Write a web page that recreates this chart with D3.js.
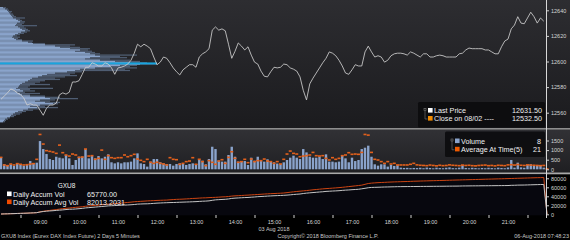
<!DOCTYPE html>
<html lang="en">
<head>
<meta charset="UTF-8">
<title>GXU8 Index</title>
<script src="https://cdnjs.cloudflare.com/ajax/libs/d3/7.8.5/d3.min.js"></script>
<style>
    body {
        margin: 0;
        background-color: #000;
    }
    svg {
        display: block;
        font-family: "Liberation Sans", Arial, sans-serif;
    }
</style>
</head>
<body>
<svg id="chart" width="570" height="240"></svg>
<script>
// 5 minute bars, 03 Aug 2018 08:00 .. 21:55
let hourLabels = ['09:00', '10:00', '11:00', '12:00', '13:00', '14:00', '15:00', '16:00', '17:00', '18:00', '19:00', '20:00', '21:00'];
let priceTicks = [12560, 12580, 12600, 12620, 12640];
let volTicks = [0, 500, 1000, 1500];
let accTicks = [0, 20000, 40000, 60000, 80000];

let lastPrice = [
    12570.5, 12573, 12575.5, 12578.5, 12577.5, 12575.5, 12574, 12571.5, 12566, 12567,
    12566, 12566, 12562, 12558, 12563.5, 12566, 12566, 12567.5, 12574, 12575.5,
    12574.5, 12576, 12584, 12584, 12585, 12590, 12595.5, 12595.5, 12599, 12598,
    12596.5, 12596.5, 12599, 12598, 12595, 12590, 12595, 12595.5, 12596.5, 12598,
    12601, 12606.5, 12613.5, 12611.5, 12613.5, 12612, 12610, 12603.5, 12597.5, 12599.5,
    12603.5, 12602.5, 12599, 12595, 12592, 12589.5, 12593.5, 12595.5, 12597.5, 12597.5,
    12595.5, 12603.5, 12606, 12607.5, 12610, 12624.5, 12627, 12624.5, 12625.5, 12624,
    12613.5, 12602.5, 12608, 12614.5, 12612, 12609, 12611.5, 12605, 12599.5, 12598,
    12592.5, 12588.5, 12588, 12592, 12595.5, 12595, 12595.5, 12598, 12597.5, 12595,
    12594, 12592.5, 12588, 12577.5, 12570, 12582.5, 12587, 12591, 12595, 12599,
    12602.5, 12607.5, 12606.5, 12604.5, 12601, 12596.5, 12591, 12590, 12593.5, 12597.5,
    12596.5, 12596.5, 12607.5, 12612, 12607.5, 12603.5, 12604.5, 12603.5, 12599.5, 12601,
    12604.5, 12606, 12606.5, 12606.5, 12606, 12605, 12607.5, 12606.5, 12605, 12603.5,
    12606, 12606, 12603.5, 12603.5, 12604.5, 12605, 12604.5, 12603.5, 12603.5, 12603.5,
    12603.5, 12606, 12606.5, 12609, 12610.5, 12610, 12610, 12610, 12610, 12609,
    12609, 12607.5, 12606, 12606, 12611.5, 12616, 12617.5, 12625.5, 12628.5, 12635,
    12630, 12629.5, 12634, 12638.5, 12635, 12630, 12634, 12631.5
];

let volume = [
    620, 260, 225, 260, 190, 310, 225, 190, 275, 430, 310, 345, 1470, 1055, 795, 535, 485, 655, 605, 570,
    745, 570, 225, 485, 655, 655, 1055, 570, 690, 570, 690, 570, 655, 780, 365, 310, 365, 310, 365, 365,
    400, 570, 830, 310, 275, 140, 400, 535, 535, 365, 310, 275, 275, 190, 275, 310, 275, 225, 275, 310,
    275, 485, 450, 260, 535, 1175, 1055, 450, 400, 400, 745, 1175, 655, 400, 400, 430, 225, 605, 450, 655,
    430, 400, 520, 400, 365, 300, 275, 365, 485, 605, 710, 605, 535, 1055, 880, 655, 605, 605, 655, 535,
    780, 400, 400, 365, 400, 710, 570, 365, 605, 430, 485, 1055, 1125, 1230, 655, 260, 190, 260, 260, 140,
    225, 175, 225, 85, 70, 75, 60, 70, 65, 80, 55, 90, 70, 50, 85, 65, 55, 80, 100, 60,
    55, 85, 225, 70, 55, 80, 65, 50, 70, 55, 80, 65, 50, 85, 70, 55, 95, 485, 85, 345,
    100, 80, 230, 260, 200, 225, 225, 85
];

let avgAtTime = [
    620, 225, 190, 275, 225, 295, 260, 225, 240, 275, 295, 520, 1815, 1315, 970, 935, 900, 830, 1260, 865,
    745, 690, 795, 745, 620, 640, 1055, 690, 710, 520, 570, 1000, 520, 710, 605, 570, 605, 605, 745, 655,
    710, 780, 535, 467, 400, 520, 365, 310, 365, 310, 275, 225, 605, 520, 500, 260, 310, 400, 430, 605,
    260, 520, 400, 190, 450, 365, 260, 430, 500, 310, 620, 915, 570, 365, 400, 520, 345, 535, 400, 450,
    450, 535, 430, 400, 310, 400, 275, 520, 795, 950, 830, 795, 655, 690, 710, 745, 880, 710, 690, 710,
    570, 485, 605, 520, 570, 710, 745, 865, 780, 795, 780, 880, 1815, 1780, 880, 520, 485, 400, 310, 400,
    275, 310, 225, 225, 225, 225, 260, 310, 230, 210, 200, 190, 220, 200, 180, 210, 190, 200, 230, 210,
    200, 190, 220, 200, 210, 190, 180, 200, 210, 220, 190, 200, 180, 210, 200, 190, 230, 240, 220, 250,
    210, 200, 230, 220, 210, 200, 190, 200
];

// first bar of 06 Aug
let newDayVolume = 8;
let newDayAvg = 21;

// volume at price, one row per index point from the top level down
let profileTop = 12642;
let profileLight = [
    30, 50, 70, 80, 90, 100, 110, 120, 130, 160, 180, 200, 170, 160, 150, 180, 200, 220, 250, 210,
    180, 150, 130, 120, 140, 160, 220, 280, 330, 450, 550, 600, 700, 800, 750, 850, 900, 950, 1000, 900,
    850, 1000, 1150, 1300, 1400, 1200, 1100, 950, 800, 750, 670, 550, 470, 420, 380, 320, 300, 280, 250, 220,
    200, 190, 180, 160, 200, 230, 170, 200, 220, 300, 450, 500, 400, 350, 450, 530, 400, 300, 370, 280,
    230, 180, 150, 130, 110, 100, 70, 50, 40, 30
];
let profileDark = [
    60, 80, 90, 120, 110, 130, 140, 160, 250, 200, 220, 250, 240, 220, 370, 240, 260, 280, 300, 270,
    240, 200, 170, 200, 180, 220, 330, 320, 450, 750, 700, 800, 900, 880, 920, 950, 1000, 1370, 1200, 1270,
    1100, 1300, 1400, 1470, 1570, 1370, 1300, 1370, 1250, 1300, 820, 750, 700, 770, 650, 550, 600, 450, 400, 350,
    500, 300, 280, 530, 300, 350, 250, 400, 300, 450, 600, 780, 550, 500, 600, 580, 500, 450, 580, 400,
    330, 260, 220, 200, 160, 140, 100, 80, 60, 50
];
let pocPrice = 12598.5;
let pocVolume = 1570;

let legendPrice = [['Last Price', '12631.50', '#ffffff'], ['Close on 08/02 ---- ', '12532.50', '#f08a00']];
let legendVol = [['Volume', '8', '#8aa3cb'], ['Average At Time(5)', '21', '#f05a00']];
let legendAcc = [['Daily Accum Vol', '65770.00', '#ffffff'], ['Daily Accum Avg Vol', '82013.2031', '#f04a00']];

let width = 570;
let height = 240;
let axisX = 546;
let svg = d3.select('#chart');

// Scales
let xIdx = d3.scaleLinear().domain([0, 168]).range([1, 547]);
let yPrice = d3.scaleLinear().domain([12560, 12640]).range([112.7, 10.3]);
let yVol = d3.scaleLinear().domain([0, 1500]).range([169.3, 140.5]);
let yAcc = d3.scaleLinear().domain([0, 80000]).range([214.3, 178.3]);
let xProf = d3.scaleLinear().domain([0, 1600]).range([0, 160]);

// Backgrounds
let defs = svg.append('defs');
let addGrad = (id, c0, c1) => {
    let g = defs.append('linearGradient').attr('id', id)
        .attr('x1', 0).attr('y1', 0).attr('x2', 0).attr('y2', 1);
    g.append('stop').attr('offset', '0%').attr('stop-color', c0);
    g.append('stop').attr('offset', '100%').attr('stop-color', c1);
};
addGrad('gPrice', '#2d2d31', '#1b1b1e');
addGrad('gVol', '#313135', '#1f1f22');

svg.append('rect').attr('width', width).attr('height', height).attr('fill', '#000');
svg.append('rect').attr('x', 0).attr('y', 0).attr('width', width).attr('height', 128).attr('fill', 'url(#gPrice)');
svg.append('rect').attr('x', 0).attr('y', 128).attr('width', width).attr('height', 1.8).attr('fill', '#8e8e8e');
svg.append('rect').attr('x', 0).attr('y', 129.8).attr('width', width).attr('height', 43).attr('fill', 'url(#gVol)');
svg.append('rect').attr('x', 0).attr('y', 172.5).attr('width', width).attr('height', 1.8).attr('fill', '#a9a9a9');
svg.append('rect').attr('x', 0).attr('y', 174.3).attr('width', axisX).attr('height', 41).attr('fill', '#07070e');

// Volume profile
let prof = svg.append('g');
profileDark.forEach((v, k) => {
    let p = profileTop - k;
    prof.append('rect')
        .attr('x', 0).attr('y', yPrice(p + 0.5))
        .attr('width', xProf(v)).attr('height', yPrice(p - 0.5) - yPrice(p + 0.5))
        .attr('fill', '#4f5d72');
});
profileLight.forEach((v, k) => {
    let p = profileTop - k;
    prof.append('rect')
        .attr('x', 0).attr('y', yPrice(p + 0.5))
        .attr('width', xProf(v)).attr('height', yPrice(p - 0.5) - yPrice(p + 0.5))
        .attr('fill', '#8aa4cb');
});
prof.append('rect')
    .attr('x', 0).attr('y', yPrice(pocPrice) - 1)
    .attr('width', xProf(pocVolume)).attr('height', 2)
    .attr('fill', '#18a4de');

// Price line
svg.append('path')
    .datum(lastPrice)
    .attr('fill', 'none')
    .attr('stroke', '#cfcfcf')
    .attr('stroke-width', 0.85)
    .attr('d', d3.line().x((d, i) => xIdx(i)).y((d) => yPrice(d)));

// Volume bars and average markers
svg.selectAll('.bar')
    .data(volume.concat([newDayVolume]))
    .enter()
    .append('rect')
    .attr('class', 'bar')
    .attr('x', (d, i) => xIdx(i) - 1.2)
    .attr('y', (d) => yVol(d))
    .attr('width', 2.4)
    .attr('height', (d) => yVol(0) - yVol(d))
    .attr('fill', '#8aa3cb');

svg.selectAll('.avg')
    .data(avgAtTime.concat([newDayAvg]))
    .enter()
    .append('rect')
    .attr('class', 'avg')
    .attr('x', (d, i) => xIdx(i) - 1.5)
    .attr('y', (d) => yVol(d) - 0.8)
    .attr('width', 3)
    .attr('height', 1.6)
    .attr('fill', '#e2601c');

// Accumulated volume
let cumVol = [];
let cumAvg = [];
volume.reduce((s, v) => { cumVol.push(s + v); return s + v; }, 0);
avgAtTime.reduce((s, v) => { cumAvg.push(s + v); return s + v; }, 0);
cumVol.push(newDayVolume);
cumAvg.push(newDayAvg);

let accLine = d3.line().x((d, i) => xIdx(i)).y((d) => yAcc(d));
svg.append('path').datum(cumAvg)
    .attr('fill', 'none').attr('stroke', '#cc4412').attr('stroke-width', 1)
    .attr('d', accLine);
svg.append('path').datum(cumVol)
    .attr('fill', 'none').attr('stroke', '#c4c4c4').attr('stroke-width', 1)
    .attr('d', accLine);

// Right axes
let styleAxis = (g) => {
    g.select('.domain').remove();
    g.selectAll('line').attr('stroke', '#d0d0d0');
    g.selectAll('text').attr('fill', '#d6d6d6').attr('font-size', '5.5px')
        .attr('font-family', '"Liberation Sans", Arial, sans-serif');
};
svg.append('g').attr('transform', 'translate(' + axisX + ',0)')
    .call(d3.axisRight(yPrice).tickValues(priceTicks).tickSize(3).tickPadding(2).tickFormat(d3.format('d')))
    .call(styleAxis);
svg.append('g').attr('transform', 'translate(' + axisX + ',0)')
    .call(d3.axisRight(yVol).tickValues(volTicks).tickSize(3).tickPadding(2).tickFormat(d3.format('d')))
    .call(styleAxis);
svg.append('g').attr('transform', 'translate(' + axisX + ',0)')
    .call(d3.axisRight(yAcc).tickValues(accTicks).tickSize(3).tickPadding(2).tickFormat(d3.format('d')))
    .call(styleAxis);
svg.append('line').attr('x1', axisX + 0.5).attr('x2', axisX + 0.5).attr('y1', 0).attr('y2', 218)
    .attr('stroke', '#d8d8d8').attr('stroke-width', 1);

// Time axis
let hourIdx = hourLabels.map((h, i) => (i + 1) * 12);
let halfIdx = d3.range(0, 14).map((h) => h * 12 + 6);
svg.append('g').attr('transform', 'translate(0,215)')
    .call(d3.axisBottom(xIdx).tickValues(halfIdx).tickSize(3).tickFormat(''))
    .call(styleAxis);
svg.append('g').attr('transform', 'translate(0,218.5)')
    .call(d3.axisBottom(xIdx).tickValues(hourIdx).tickSize(0).tickPadding(2)
        .tickFormat((d, i) => hourLabels[i]))
    .call(styleAxis);

let smallText = (x, y, txt, anchor) => svg.append('text')
    .attr('x', x).attr('y', y).attr('text-anchor', anchor || 'start')
    .attr('fill', '#c8c8c8').attr('font-size', '5.5px').text(txt);
smallText(xIdx(7 * 12), 230.5, '03 Aug 2018', 'middle');
smallText(1, 237.5, 'GXU8 Index (Eurex DAX Index Future) 2 Days 5 Minutes');
smallText(328, 237.5, 'Copyright\u00a9 2018 Bloomberg Finance L.P.', 'middle');
smallText(569, 237.5, '06-Aug-2018 07:48:23', 'end');

// Legends
let drawLegend = (items, bx, by, bw, bh, x0, xv, y0, dy, bracket) => {
    let g = svg.append('g');
    if (bw > 0) {
        g.append('rect').attr('x', bx).attr('y', by).attr('width', bw).attr('height', bh)
            .attr('rx', 1.5).attr('fill', '#0c0c0e').attr('fill-opacity', 0.92);
    }
    if (bracket) {
        g.append('rect').attr('x', x0 - 10).attr('y', y0 - 4.5).attr('width', 2).attr('height', 2)
            .attr('fill', 'none').attr('stroke', '#7a7a7a').attr('stroke-width', 0.6);
        g.append('path').attr('d', 'M' + (x0 - 9) + ',' + (y0 - 2.5) + 'V' + (y0 + dy - 2) + 'H' + (x0 - 6.5))
            .attr('fill', 'none').attr('stroke', '#7a7a7a').attr('stroke-width', 0.6);
    }
    items.forEach((it, k) => {
        let y = y0 + k * dy;
        g.append('rect').attr('x', x0 - 6).attr('y', y - 5).attr('width', 4.6).attr('height', 4.6)
            .attr('fill', it[2]);
        g.append('text').attr('x', x0).attr('y', y).attr('fill', '#f0f0f0')
            .attr('font-size', '7.2px').text(it[0]);
        g.append('text').attr('x', xv).attr('y', y).attr('fill', '#f0f0f0')
            .attr('font-size', '7.2px').attr('text-anchor', bracket ? 'end' : 'start').text(it[1]);
    });
    return g;
};
drawLegend(legendPrice, 418, 102, 127, 25.5, 434, 542, 113, 8, true);
drawLegend(legendVol, 445, 131.5, 100, 25.5, 461, 541, 143.5, 8.3, true);
drawLegend(legendAcc, 0, 0, 0, 0, 13, 87, 196.5, 8, false);
svg.append('text').attr('x', 66.5).attr('y', 187.5).attr('text-anchor', 'middle')
    .attr('fill', '#f0f0f0').attr('font-size', '6.5px').text('GXU8');
</script>
</body>
</html>
